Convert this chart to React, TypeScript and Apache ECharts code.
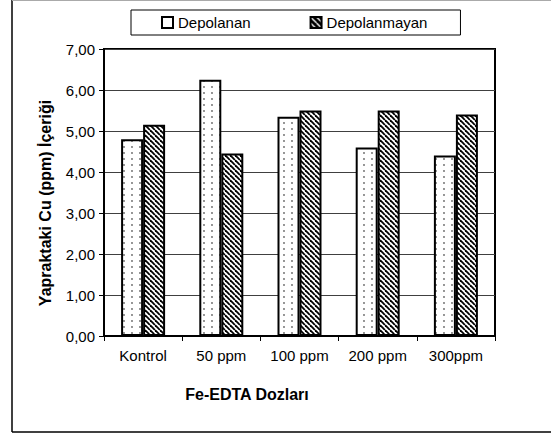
import React, { useEffect, useRef } from "react";
import * as echarts from "echarts";

const categories = ["Kontrol", "50 ppm", "100 ppm", "200 ppm", "300ppm"];
const depolanan = [4.8, 6.25, 5.35, 4.6, 4.4];
const depolanmayan = [5.15, 4.45, 5.5, 5.5, 5.4];
const seriesNames = ["Depolanan", "Depolanmayan"];
const yAxisTitle = "Yapraktaki Cu (ppm) İçeriği";
const xAxisTitle = "Fe-EDTA Dozları";

const FONT = "'Liberation Sans', Arial, sans-serif";

function makeDots(): HTMLCanvasElement {
  const c = document.createElement("canvas");
  c.width = 8;
  c.height = 6;
  const ctx = c.getContext("2d")!;
  ctx.fillStyle = "#fff";
  ctx.fillRect(0, 0, 8, 6);
  ctx.fillStyle = "#666";
  ctx.beginPath();
  ctx.arc(4, 3, 0.9, 0, Math.PI * 2);
  ctx.fill();
  return c;
}

function makeHatch(s: number, bg: string, fg: string, lw: number): HTMLCanvasElement {
  const c = document.createElement("canvas");
  c.width = s;
  c.height = s;
  const ctx = c.getContext("2d")!;
  ctx.fillStyle = bg;
  ctx.fillRect(0, 0, s, s);
  ctx.strokeStyle = fg;
  ctx.lineWidth = lw;
  for (let k = -1; k <= 1; k++) {
    ctx.beginPath();
    ctx.moveTo(k * s, 0);
    ctx.lineTo(k * s + s, s);
    ctx.stroke();
  }
  return c;
}

export default function App() {
  const ref = useRef<HTMLDivElement>(null);
  useEffect(() => {
    if (!ref.current) return;
    const chart = echarts.init(ref.current, null, { renderer: "svg" });
    const dots = { image: makeDots(), repeat: "repeat" };
    const hatch = { image: makeHatch(5, "#fff", "#000", 1.8), repeat: "repeat" };
    const hatchIcon = { image: makeHatch(6, "#000", "#fff", 1.3), repeat: "repeat" };
    chart.setOption({
      animation: false,
      backgroundColor: "#fff",
      textStyle: { fontFamily: FONT },
      grid: {
        left: 104,
        top: 49,
        width: 391,
        height: 287,
        show: true,
        borderColor: "#000",
        borderWidth: 2,
        backgroundColor: "transparent",
      },
      legend: {
        left: 131,
        top: 10,
        padding: [5, 33, 5, 30],
        itemGap: 59,
        itemWidth: 11,
        itemHeight: 11,
        itemTextGap: 4,
        icon: "rect",
        borderColor: "#000",
        borderWidth: 1,
        backgroundColor: "#fff",
        textStyle: { fontSize: 15, color: "#000", fontFamily: FONT },
        data: [
          { name: seriesNames[0], itemStyle: { color: "#fff", borderColor: "#000", borderWidth: 2 } },
          { name: seriesNames[1], itemStyle: { color: hatchIcon, borderColor: "#000", borderWidth: 2 } },
        ],
      },
      xAxis: {
        type: "category",
        data: categories,
        axisLine: { show: true, lineStyle: { color: "#000", width: 2 } },
        axisTick: { show: true, length: 5, interval: 0, lineStyle: { color: "#000", width: 1 } },
        axisLabel: { fontSize: 15, color: "#000", margin: 12, interval: 0, fontFamily: FONT },
        splitLine: { show: false },
      },
      yAxis: {
        type: "value",
        min: 0,
        max: 7,
        interval: 1,
        axisLine: { show: true, lineStyle: { color: "#000", width: 2 } },
        axisTick: { show: true, length: 5, lineStyle: { color: "#000", width: 1 } },
        axisLabel: {
          fontSize: 15,
          color: "#000",
          margin: 9,
          fontFamily: FONT,
          formatter: (v: number) => v.toFixed(2).replace(".", ","),
        },
        splitLine: { show: true, lineStyle: { color: "#404040", width: 1 } },
      },
      graphic: [
        { type: "line", silent: true, z: 100, shape: { x1: 12, y1: 0, x2: 12, y2: 432 }, style: { stroke: "#000", lineWidth: 1.5 } },
        { type: "line", silent: true, z: 100, shape: { x1: 12, y1: 0.5, x2: 551, y2: 0.5 }, style: { stroke: "#aaa", lineWidth: 1 } },
        { type: "line", silent: true, z: 100, shape: { x1: 12, y1: 432, x2: 551, y2: 432 }, style: { stroke: "#000", lineWidth: 1.5 } },
        {
          type: "text",
          x: 45,
          y: 203,
          rotation: Math.PI / 2,
          style: {
            text: yAxisTitle,
            fontSize: 16,
            fontWeight: "bold",
            fontFamily: FONT,
            fill: "#000",
            align: "center",
            verticalAlign: "middle",
          },
        },
        {
          type: "text",
          x: 247,
          y: 394,
          style: {
            text: xAxisTitle,
            fontSize: 16,
            fontWeight: "bold",
            fontFamily: FONT,
            fill: "#000",
            align: "center",
            verticalAlign: "middle",
          },
        },
      ],
      series: [
        {
          name: seriesNames[0],
          type: "bar",
          data: depolanan,
          barWidth: 22,
          barGap: "0%",
          itemStyle: { color: dots, borderColor: "#000", borderWidth: 2 },
        },
        {
          name: seriesNames[1],
          type: "bar",
          data: depolanmayan,
          barWidth: 22,
          barGap: "0%",
          itemStyle: { color: hatch, borderColor: "#000", borderWidth: 2 },
        },
      ],
    });
    return () => chart.dispose();
  }, []);
  return (
    <div
      ref={ref}
      style={{ position: "fixed", left: 0, top: 0, width: 551, height: 434 }}
    />
  );
}
